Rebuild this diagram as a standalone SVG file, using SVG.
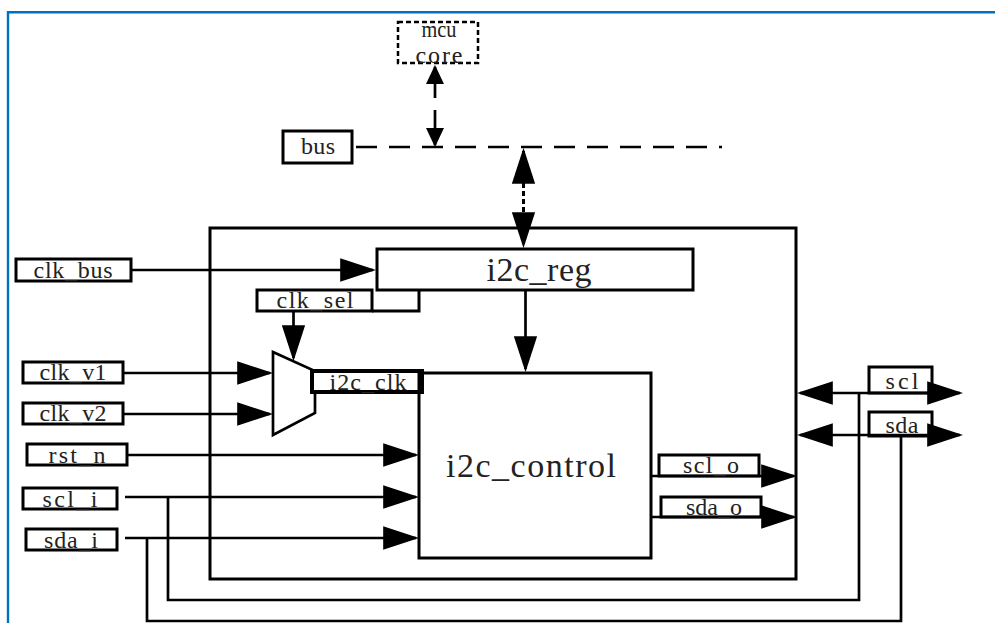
<svg xmlns="http://www.w3.org/2000/svg" width="995" height="623" viewBox="0 0 995 623">
<style>
.box{fill:#fff;stroke:#000;stroke-width:3}
.nb{fill:none;stroke:#000;stroke-width:3}
.ln{fill:none;stroke:#000;stroke-width:2.7}
.lb{font-family:"Liberation Serif","DejaVu Serif",serif;font-size:24px;fill:#222;text-anchor:middle}
.big{font-family:"Liberation Serif","DejaVu Serif",serif;font-size:34px;fill:#222;text-anchor:middle}
</style>
<defs>
<marker id="ah" markerUnits="userSpaceOnUse" markerWidth="36" markerHeight="24" viewBox="0 0 34 22" refX="31" refY="11" orient="auto-start-reverse"><path d="M0,0L34,11L0,22z" fill="#000"/></marker>
<marker id="as" markerUnits="userSpaceOnUse" markerWidth="19" markerHeight="18" viewBox="0 0 18 17" refX="16" refY="8.5" orient="auto"><path d="M0,0L18,8.5L0,17z" fill="#000"/></marker>
</defs>
<rect width="995" height="623" fill="#fff"/>
<path d="M8,623V12.3H995" fill="none" stroke="#0070c0" stroke-width="2.4"/>

<g id="connectors">
<path d="M356,147H722" class="ln" stroke-dasharray="21 12"/>
<path d="M435,98V67" class="ln" marker-end="url(#as)"/>
<path d="M435,110V145" class="ln" marker-end="url(#as)"/>
<path d="M523.5,151V245" fill="none" stroke="#000" stroke-width="3" stroke-dasharray="5 3" marker-start="url(#ah)" marker-end="url(#ah)"/>
<path d="M131,270H373" class="ln" marker-end="url(#ah)"/>
<path d="M293.5,311V358" class="ln" marker-end="url(#ah)"/>
<path d="M123,373H270" class="ln" marker-end="url(#ah)"/>
<path d="M123,414H270" class="ln" marker-end="url(#ah)"/>
<path d="M525.5,290V369" class="ln" marker-end="url(#ah)"/>
<path d="M127,455H416" class="ln" marker-end="url(#ah)"/>
<path d="M125,497H416" class="ln" marker-end="url(#ah)"/>
<path d="M125,538H416" class="ln" marker-end="url(#ah)"/>
<path d="M651,476H794" class="ln" marker-end="url(#ah)"/>
<path d="M651,517H794" class="ln" marker-end="url(#ah)"/>
<path d="M800,393H960" class="ln" marker-start="url(#ah)" marker-end="url(#ah)"/>
<path d="M800,435H960" class="ln" marker-start="url(#ah)" marker-end="url(#ah)"/>
<path d="M168,497V600H859V393" class="ln"/>
<path d="M147,538V621H901V435" class="ln"/>
</g>

<g id="top_block"><rect x="210" y="228" width="586" height="351" class="nb" stroke-width="2.7"/></g>

<g id="mcu_core"><rect x="398" y="22" width="80" height="41" fill="#fff" stroke="#000" stroke-width="2.5" stroke-dasharray="5 3"/>
<text x="439" y="37" class="lb" textLength="35" lengthAdjust="spacingAndGlyphs">mcu</text>
<text x="439" y="63" class="lb" textLength="47">core</text></g>

<g id="bus"><rect x="283" y="131" width="69" height="32" class="box"/><text x="318" y="154" class="lb" textLength="34">bus</text></g>

<g id="i2c_reg"><rect x="377" y="249" width="316" height="41" class="box"/><text x="539" y="281" class="big" textLength="105">i2c_reg</text></g>

<g id="clk_bus"><rect x="16" y="259" width="115" height="22" class="nb"/><text x="73" y="278" class="lb" textLength="79">clk_bus</text></g>

<g id="clk_sel"><path d="M372,311H419V290" class="nb"/><rect x="257" y="290" width="115" height="21" class="nb"/><text x="315" y="308" class="lb" textLength="77">clk_sel</text></g>

<g id="mux"><polygon points="273,352 315,371 315,413 273,435" fill="#fff" stroke="#000" stroke-width="2.7"/></g>

<g id="clk_v1"><rect x="23" y="362" width="100" height="21" class="nb"/><text x="73" y="380" class="lb" textLength="67">clk_v1</text></g>
<g id="clk_v2"><rect x="23" y="403" width="100" height="21" class="nb"/><text x="73" y="421" class="lb" textLength="67">clk_v2</text></g>

<g id="i2c_clk"><rect x="312" y="371" width="110" height="21" fill="#fff" stroke="#000" stroke-width="4"/><text x="368" y="390" class="lb" textLength="77">i2c_clk</text></g>

<g id="i2c_control"><rect x="419" y="373" width="232" height="185" class="nb" stroke-width="2.7"/><text x="531" y="477" class="big" textLength="170">i2c_control</text></g>

<g id="rst_n"><rect x="27" y="444" width="100" height="21" class="nb"/><text x="77" y="463" class="lb" textLength="57">rst_n</text></g>
<g id="scl_i"><rect x="23" y="488" width="94" height="21" class="nb"/><text x="70" y="507" class="lb" textLength="55">scl_i</text></g>
<g id="sda_i"><rect x="26" y="529" width="91" height="21" class="nb"/><text x="71" y="548" class="lb" textLength="54">sda_i</text></g>

<g id="scl_o"><rect x="659" y="455" width="100" height="21" class="nb"/><text x="711" y="473" class="lb" textLength="56">scl_o</text></g>
<g id="sda_o"><rect x="661" y="497" width="100" height="20" class="nb"/><text x="714" y="515" class="lb" textLength="56">sda_o</text></g>

<g id="scl"><rect x="869" y="367" width="63" height="26" class="nb"/><text x="902" y="389" class="lb" textLength="33">scl</text></g>
<g id="sda"><rect x="869" y="412" width="63" height="24" class="nb"/><text x="902" y="433" class="lb" textLength="33">sda</text></g>
</svg>
